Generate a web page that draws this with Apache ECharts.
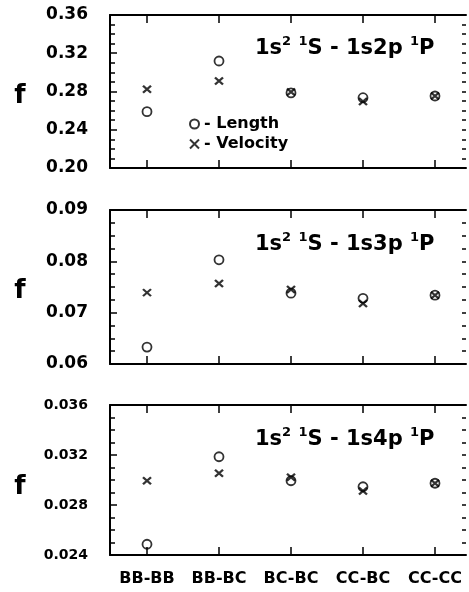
<!DOCTYPE html>
<html><head><meta charset="utf-8">
<script src="https://cdn.jsdelivr.net/npm/echarts@6/dist/echarts.min.js"></script>
<style>html,body{margin:0;padding:0;background:#fff}#c{width:469px;height:592px}</style>
</head><body><div id="c"></div>
<script>
// ---- data ----
const categories = ['BB-BB', 'BB-BC', 'BC-BC', 'CC-BC', 'CC-CC'];
const catIndex = [0, 1, 2, 3, 4];

// panel 1: 1s2 1S - 1s2p 1P
const length1   = [0.2589, 0.3119, 0.2785, 0.2735, 0.2753];
const velocity1 = [0.2823, 0.2910, 0.2795, 0.2695, 0.2753];
// panel 2: 1s2 1S - 1s3p 1P
const length2   = [0.0633, 0.0803, 0.0738, 0.0728, 0.0734];
const velocity2 = [0.0739, 0.0757, 0.0745, 0.0718, 0.0734];
// panel 3: 1s2 1S - 1s4p 1P
const length3   = [0.02486, 0.03186, 0.02994, 0.02946, 0.02974];
const velocity3 = [0.02994, 0.03054, 0.03022, 0.02912, 0.02974];

const yTicks1 = ['0.20', '0.24', '0.28', '0.32', '0.36'];
const yTicks2 = ['0.06', '0.07', '0.08', '0.09'];
const yTicks3 = ['0.024', '0.028', '0.032', '0.036'];

const upperStates = ['1s2p', '1s3p', '1s4p'];
const yLabel = 'f';
const seriesNames = ['Length', 'Velocity'];

// ---- layout ----
const FONT = 'DejaVu Sans';
const gridTops = [15, 210, 405];
const gridHeights = [153, 154, 150];
const GRID_LEFT = 110, GRID_WIDTH = 356;
const XMIN = -37 / 72, XMAX = 4 + 31 / 72;
const yLabelSizes = [17, 17, 14];
const titleY = [47, 243, 438];
const fY = [96, 291, 487];

const panels = [
  { len: length1, vel: velocity1, ticks: yTicks1 },
  { len: length2, vel: velocity2, ticks: yTicks2 },
  { len: length3, vel: velocity3, ticks: yTicks3 }
];

const grid = [], xAxis = [], yAxis = [], series = [], graphic = [];

panels.forEach((p, i) => {
  grid.push({ left: GRID_LEFT, width: GRID_WIDTH, top: gridTops[i], height: gridHeights[i] });
  const t0 = parseFloat(p.ticks[0]);
  const t1 = parseFloat(p.ticks[1]);
  const tN = parseFloat(p.ticks[p.ticks.length - 1]);
  const step = parseFloat((t1 - t0).toFixed(6));
  const dec = p.ticks[0].split('.')[1].length;

  // bottom x axis
  xAxis.push({
    gridIndex: i, type: 'value', min: XMIN, max: XMAX, position: 'bottom',
    axisLine: { show: true, onZero: false, lineStyle: { color: '#000', width: 2 } },
    axisTick: { show: true, inside: true, length: 8, customValues: catIndex, lineStyle: { color: '#000', width: 1.5 } },
    axisLabel: {
      show: i === 2, customValues: catIndex, margin: 16,
      formatter: v => categories[Math.round(v)],
      color: '#000', fontFamily: FONT, fontWeight: 'bold', fontSize: 16
    },
    splitLine: { show: false }
  });
  // top x axis
  xAxis.push({
    gridIndex: i, type: 'value', min: XMIN, max: XMAX, position: 'top',
    axisLine: { show: true, onZero: false, lineStyle: { color: '#000', width: 2 } },
    axisTick: { show: true, inside: true, length: 8, customValues: catIndex, lineStyle: { color: '#000', width: 1.5 } },
    axisLabel: { show: false },
    splitLine: { show: false }
  });
  // left y axis
  yAxis.push({
    gridIndex: i, type: 'value', min: t0, max: tN, interval: step, position: 'left',
    axisLine: { show: true, onZero: false, lineStyle: { color: '#000', width: 2 } },
    axisTick: { show: true, inside: true, length: 7, lineStyle: { color: '#000', width: 1.5 } },
    minorTick: { show: true, splitNumber: 4, length: 5, lineStyle: { color: '#000', width: 1.5 } },
    axisLabel: {
      margin: 22, formatter: v => v.toFixed(dec),
      color: '#000', fontFamily: FONT, fontWeight: 'bold', fontSize: yLabelSizes[i]
    },
    splitLine: { show: false }, minorSplitLine: { show: false }
  });
  // right y axis (ticks only)
  yAxis.push({
    gridIndex: i, type: 'value', min: t0, max: tN, interval: step, position: 'right',
    axisLine: { show: false, onZero: false },
    axisTick: { show: true, inside: true, length: 4, lineStyle: { color: '#000', width: 1.5 } },
    minorTick: { show: true, splitNumber: 4, length: 4, lineStyle: { color: '#000', width: 1.5 } },
    axisLabel: { show: false },
    splitLine: { show: false }, minorSplitLine: { show: false }
  });

  series.push({
    name: seriesNames[0], type: 'scatter', xAxisIndex: 2 * i, yAxisIndex: 2 * i,
    data: catIndex.map((x, j) => [x, p.len[j]]),
    symbol: 'circle', symbolSize: 9,
    itemStyle: { color: 'rgba(0,0,0,0)', borderColor: '#000', borderWidth: 1.8 },
    emphasis: { disabled: true }, silent: true
  });
  series.push({
    name: seriesNames[1], type: 'scatter', xAxisIndex: 2 * i, yAxisIndex: 2 * i,
    data: catIndex.map((x, j) => [x, p.vel[j]]),
    symbol: 'path://M0,0L8,8M8,0L0,8', symbolSize: [8, 7],
    itemStyle: { color: 'rgba(0,0,0,0)', borderColor: '#000', borderWidth: 2.2 },
    emphasis: { disabled: true }, silent: true
  });

  // panel title with superscripts
  graphic.push({
    type: 'text', x: 255, y: titleY[i], silent: true,
    style: {
      text: '{m|1s}{s|2}{m| }{s|1}{m|S - ' + upperStates[i] + ' }{s|1}{m|P}',
      verticalAlign: 'middle', align: 'left',
      rich: {
        m: { fontFamily: FONT, fontWeight: 'bold', fontSize: 21, lineHeight: 24, verticalAlign: 'bottom', fill: '#000' },
        s: { fontFamily: FONT, fontWeight: 'bold', fontSize: 13, lineHeight: 14, verticalAlign: 'top', fill: '#000' }
      }
    }
  });
  // y label "f"
  graphic.push({
    type: 'text', x: 20, y: fY[i], silent: true,
    style: { text: yLabel, fontFamily: FONT, fontWeight: 'bold', fontSize: 26, fill: '#000', align: 'center', verticalAlign: 'middle' }
  });
});

const option = {
  animation: false,
  backgroundColor: '#fff',
  grid, xAxis, yAxis, series, graphic,
  legend: {
    data: seriesNames, orient: 'vertical', left: 184, top: 111,
    itemWidth: 9, itemHeight: 9, itemGap: 4, selectedMode: false,
    formatter: n => '- ' + n,
    textStyle: { color: '#000', fontFamily: FONT, fontWeight: 'bold', fontSize: 16 }
  }
};

const chart = echarts.init(document.getElementById('c'), null, { renderer: 'canvas' });
chart.setOption(option);
</script>
</body></html>
